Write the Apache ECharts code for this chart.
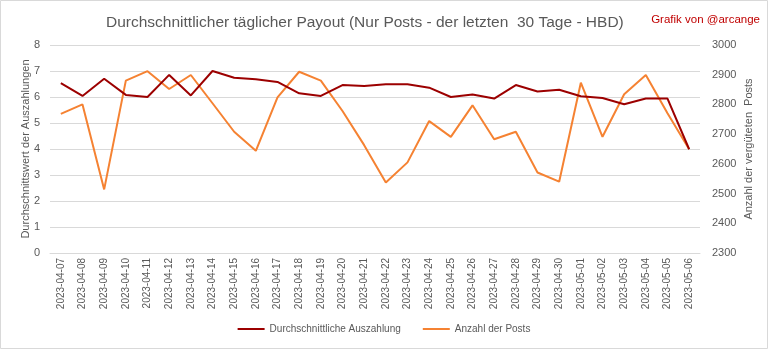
<!DOCTYPE html>
<html><head><meta charset="utf-8">
<script src="https://cdn.jsdelivr.net/npm/echarts@6/dist/echarts.min.js"></script>
<style>html,body{margin:0;padding:0;background:#fff}#c{width:768px;height:349px}</style>
</head><body><div id="c"></div>
<script>
const categories = ["2023-04-07","2023-04-08","2023-04-09","2023-04-10","2023-04-11","2023-04-12","2023-04-13","2023-04-14","2023-04-15","2023-04-16","2023-04-17","2023-04-18","2023-04-19","2023-04-20","2023-04-21","2023-04-22","2023-04-23","2023-04-24","2023-04-25","2023-04-26","2023-04-27","2023-04-28","2023-04-29","2023-04-30","2023-05-01","2023-05-02","2023-05-03","2023-05-04","2023-05-05","2023-05-06"];
const payout = [6.53,6.04,6.70,6.08,6.00,6.85,6.06,7.00,6.74,6.68,6.58,6.14,6.04,6.46,6.42,6.49,6.49,6.36,6.00,6.10,5.94,6.46,6.21,6.28,6.03,5.96,5.72,5.94,5.94,3.99];
const posts = [2768,2800,2514,2880,2912,2852,2899,2804,2708,2644,2824,2910,2880,2778,2663,2537,2605,2744,2691,2797,2683,2708,2571,2540,2873,2691,2834,2899,2770,2649];
const leftTicks = {min:0, max:8, interval:1};
const rightTicks = {min:2300, max:3000, interval:100};
const FONT = "'Liberation Sans', sans-serif";
const grey = '#595959';
const chart = echarts.init(document.getElementById('c'), null, {renderer:'canvas'});
chart.setOption({
  animation:false,
  textStyle:{fontFamily:FONT},
  title:[{text:'Durchschnittlicher täglicher Payout (Nur Posts - der letzten  30 Tage - HBD)', left:101, top:10,
    textStyle:{fontFamily:FONT, fontSize:15.5, fontWeight:'normal', color:grey}},
    {text:'Grafik von @arcange', right:3, top:9, textStyle:{fontFamily:FONT, fontSize:11.5, fontWeight:'normal', color:'#c00000'}}],
  legend:{bottom:10, left:'center', itemWidth:27, itemHeight:2, itemGap:22, icon:'rect',
    textStyle:{fontFamily:FONT, fontSize:10, color:grey},
    data:['Durchschnittliche Auszahlung','Anzahl der Posts']},
  grid:{left:50, right:68, top:45, bottom:96},
  xAxis:{type:'category', data:categories, boundaryGap:true,
    axisLine:{lineStyle:{color:'#d9d9d9'}}, axisTick:{show:false},
    axisLabel:{rotate:90, interval:0, fontSize:10, color:grey, fontFamily:FONT, margin:5}},
  yAxis:[{type:'value', min:leftTicks.min, max:leftTicks.max, interval:leftTicks.interval,
    name:'Durchschnittswert der Auszahlungen', nameLocation:'middle', nameGap:19, nameRotate:90, nameMoveOverlap:false,
    nameTextStyle:{fontSize:11, color:grey, fontFamily:FONT},
    axisLine:{show:false}, axisTick:{show:false},
    axisLabel:{fontSize:11, color:grey, fontFamily:FONT, margin:10},
    splitLine:{lineStyle:{color:'#d9d9d9'}}},
   {type:'value', min:rightTicks.min, max:rightTicks.max, interval:rightTicks.interval, position:'right',
    name:'Anzahl der vergüteten  Posts', nameLocation:'middle', nameGap:43, nameRotate:90, nameMoveOverlap:false,
    nameTextStyle:{fontSize:11, color:grey, fontFamily:FONT},
    axisLine:{show:false}, axisTick:{show:false},
    axisLabel:{fontSize:11, color:grey, fontFamily:FONT, margin:12, formatter:v=>String(v)},
    splitLine:{show:false}}],
  series:[
    {name:'Durchschnittliche Auszahlung', type:'line', data:payout, yAxisIndex:0, symbol:'none',
      lineStyle:{color:'#9c0000', width:2}, itemStyle:{color:'#9c0000'}, z:3},
    {name:'Anzahl der Posts', type:'line', data:posts, yAxisIndex:1, symbol:'none',
      lineStyle:{color:'#f58232', width:2}, itemStyle:{color:'#f58232'}, z:2}
  ],
  graphic:[{type:'rect', shape:{x:0.5,y:0.5,width:767,height:348}, style:{fill:'none', stroke:'#d9d9d9', lineWidth:1}, silent:true}]
});
</script></body></html>
